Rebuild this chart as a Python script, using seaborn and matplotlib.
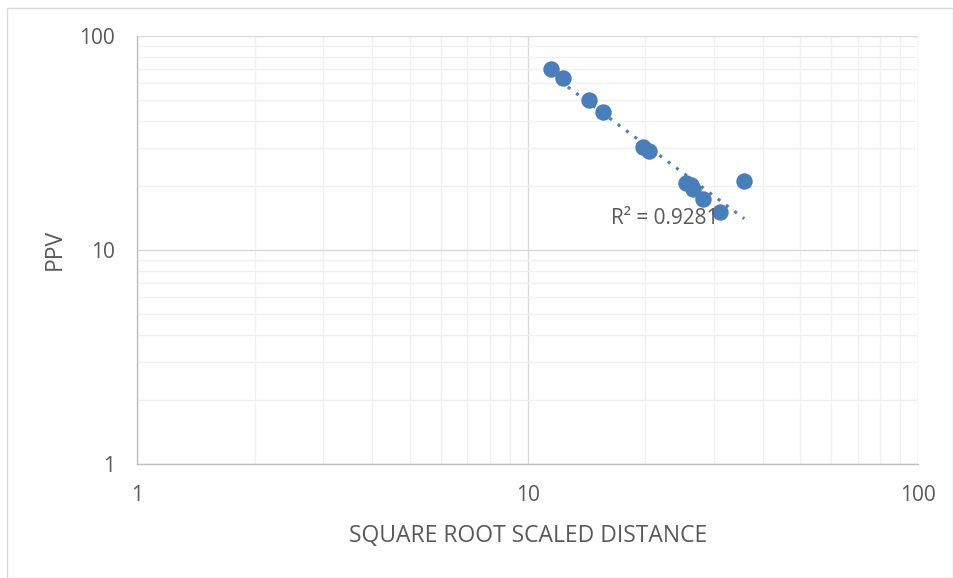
import numpy as np
import pandas as pd
import matplotlib
matplotlib.use("Agg")
import matplotlib.pyplot as plt
import seaborn as sns
from matplotlib.ticker import LogLocator, NullFormatter, FixedLocator, FixedFormatter
from matplotlib.patches import Rectangle

# data
distance = [11.5, 12.3, 14.35, 15.6, 19.8, 20.5, 25.4, 26.2, 26.6, 28.2, 31.1, 35.9]
ppv = [70.1, 63.9, 50.4, 44.0, 30.4, 29.0, 20.5, 20.1, 19.2, 17.4, 15.0, 21.0]
r2_label = "R² = 0.9281"
x_ticks = [1, 10, 100]
y_ticks = [1, 10, 100]

df = pd.DataFrame({"distance": distance, "ppv": ppv})

sns.set_theme(style="white")
plt.rcParams['font.family'] = ['Open Sans', 'DejaVu Sans']

W, H = 954, 578
fig = plt.figure(figsize=(W / 100, H / 100), dpi=100)
ax = fig.add_axes([137 / W, 1 - 464 / H, (918 - 137) / W, (464 - 36) / H])

# outer chart border
fig.patches.append(Rectangle((7 / W, 0.5 / H), (W - 7.5) / W, (H - 8) / H,
                             transform=fig.transFigure, fill=False,
                             edgecolor="#d9d9d9", linewidth=1.0))

ax.set_xscale("log")
ax.set_yscale("log")
ax.set_xlim(1, 100)
ax.set_ylim(1, 100)

# grid
ax.xaxis.set_major_locator(FixedLocator(x_ticks))
ax.yaxis.set_major_locator(FixedLocator(y_ticks))
ax.xaxis.set_major_formatter(FixedFormatter([str(v) for v in x_ticks]))
ax.yaxis.set_major_formatter(FixedFormatter([str(v) for v in y_ticks]))
ax.xaxis.set_minor_locator(LogLocator(base=10, subs=np.arange(2, 10)))
ax.yaxis.set_minor_locator(LogLocator(base=10, subs=np.arange(2, 10)))
ax.xaxis.set_minor_formatter(NullFormatter())
ax.yaxis.set_minor_formatter(NullFormatter())
ax.grid(which="major", color="#d9d9d9", linewidth=1.0)
ax.grid(which="minor", color="#f0f0f0", linewidth=1.0)
ax.set_axisbelow(True)

for s in ["top", "right"]:
    ax.spines[s].set_visible(False)
for s in ["left", "bottom"]:
    ax.spines[s].set_color("#bfbfbf")
    ax.spines[s].set_linewidth(1.0)

ax.tick_params(which="both", length=0)
ax.tick_params(axis="x", pad=15, labelsize=15, labelcolor="#595959")
ax.tick_params(axis="y", pad=16, labelsize=15, labelcolor="#595959")

# power trendline fit in log space
lx = np.log10(df["distance"].values)
ly = np.log10(df["ppv"].values)
b, a = np.polyfit(lx, ly, 1)
xt = np.logspace(lx.min(), lx.max(), 50)
yt = 10 ** (a + b * np.log10(xt))
ax.plot(xt, yt, linestyle=(0, (1, 2.4)), color="#4a7ebb", linewidth=2.2, zorder=3)

sns.scatterplot(data=df, x="distance", y="ppv", ax=ax, s=140, color="#4a7ebb",
                edgecolor="#4a7ebb", linewidth=0, zorder=4, legend=False)

ax.text(665 / W, 1 - 218 / H, r2_label, transform=fig.transFigure, ha="center",
        va="center", fontsize=15, color="#595959", zorder=5)

ax.set_xlabel("SQUARE ROOT SCALED DISTANCE", fontsize=16.5, color="#595959")
ax.xaxis.label.set_va("center")
ax.xaxis.set_label_coords((528 - 137) / 781, (464 - 535.5) / 428)
ax.set_ylabel("PPV", fontsize=16.5, color="#595959")
ax.yaxis.label.set_va("center")
ax.yaxis.set_label_coords((55 - 137) / 781, (464 - 249) / 428)

fig.savefig("out.png", dpi=100)
